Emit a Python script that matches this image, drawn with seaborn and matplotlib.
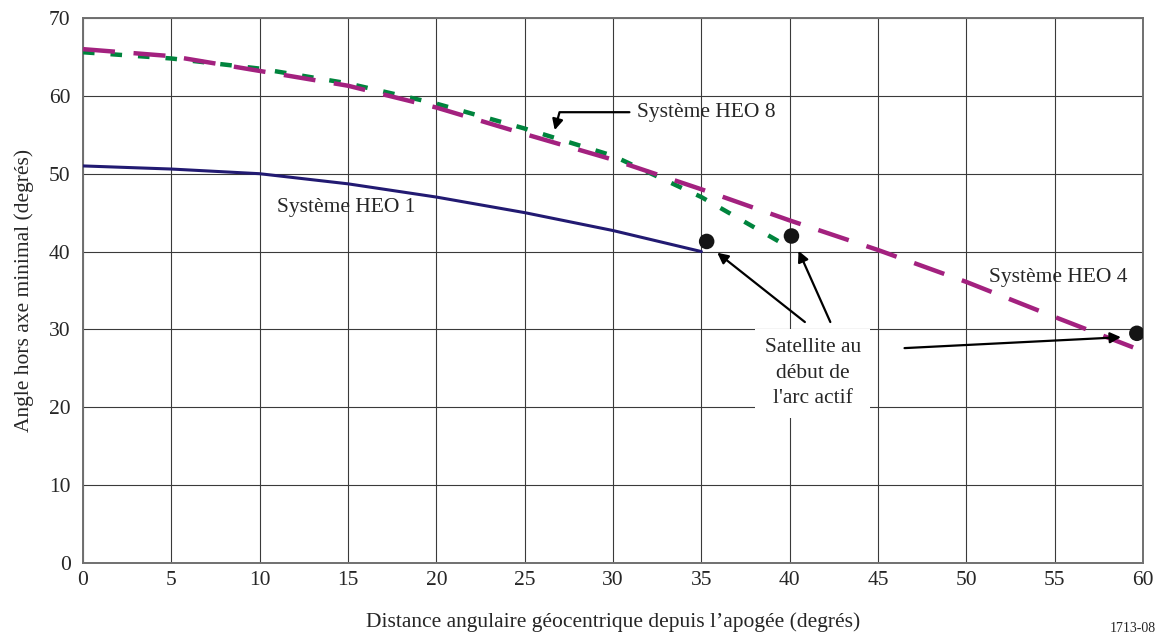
import matplotlib
matplotlib.use("Agg")
import matplotlib.pyplot as plt
import numpy as np
import pandas as pd
import seaborn as sns

# valeurs
x_heo1 = [0, 5, 10, 15, 20, 25, 30, 35]
y_heo1 = [51.0, 50.6, 50.0, 48.7, 47.0, 45.0, 42.7, 40.0]

x_heo4 = [0, 5, 10, 15, 20, 25, 30, 35, 40, 45, 50, 55, 60]
y_heo4 = [66.0, 65.1, 63.2, 61.3, 58.5, 55.1, 51.8, 48.0, 44.0, 40.2, 36.1, 31.6, 27.2]

x_heo8 = [0, 5, 10, 15, 20, 25, 30, 35, 40]
y_heo8 = [65.6, 64.8, 63.5, 61.6, 59.0, 55.8, 52.3, 47.0, 40.5]

# satellites au début de l'arc actif
x_sat = [35.3, 40.1, 59.65]
y_sat = [41.3, 42.0, 29.5]

x_ticks = list(range(0, 61, 5))
y_ticks = list(range(0, 71, 10))

sns.set_style("white")
plt.rcParams['font.family'] = ['Liberation Serif', 'DejaVu Serif']
FS = 15.5
plt.rcParams['font.size'] = FS

df1 = pd.DataFrame({"x": x_heo1, "y": y_heo1})
df4 = pd.DataFrame({"x": x_heo4, "y": y_heo4})
df8 = pd.DataFrame({"x": x_heo8, "y": y_heo8})
dsat = pd.DataFrame({"x": x_sat, "y": y_sat})

fig = plt.figure(figsize=(11.66, 6.36), dpi=100)
ax = fig.add_axes([0.0712, 0.1148, 0.9803 - 0.0712, 0.9717 - 0.1148])

sns.lineplot(data=df1, x="x", y="y", ax=ax, color="#221a72", lw=2.2, zorder=3)
l8 = sns.lineplot(data=df8, x="x", y="y", ax=ax, color="#00843d", lw=3.2, zorder=3).lines[-1]
l8.set_dashes((2.6, 3.6))
l4 = sns.lineplot(data=df4, x="x", y="y", ax=ax, color="#a3217f", lw=3.2, zorder=4).lines[-1]
l4.set_dashes((7.2, 4.2))
sns.scatterplot(data=dsat, x="x", y="y", ax=ax, color="#151515", s=125, edgecolor="none", zorder=6)

ax.set_xlim(0, 60)
ax.set_ylim(0, 70)
ax.set_xticks(x_ticks)
ax.set_yticks(y_ticks)
ax.grid(True, color="#3a3a3a", lw=0.8)
ax.set_axisbelow(True)
for s in ax.spines.values():
    s.set_color("#707070")
    s.set_linewidth(1.4)
ax.tick_params(axis="y", length=5, width=1, color="#707070", pad=4, labelsize=FS)
ax.tick_params(axis="x", length=2, width=1, color="#707070", pad=4, labelsize=FS)

ax.set_xlabel("Distance angulaire géocentrique depuis l’apogée (degrés)", fontsize=FS, labelpad=16)
ax.set_ylabel("Angle hors axe minimal (degrés)", fontsize=FS, labelpad=11)

# étiquettes des courbes
ax.text(11.0, 45.6, "Système HEO 1", fontsize=FS, va="center", ha="left")
ax.text(51.3, 36.7, "Système HEO 4", fontsize=FS, va="center", ha="left")
ax.annotate("Système HEO 8", xy=(26.7, 55.6), xytext=(31.35, 57.9),
            fontsize=FS, va="center", ha="left",
            arrowprops=dict(arrowstyle="-|>", color="black", lw=1.6, mutation_scale=16,
                            connectionstyle="angle,angleA=0,angleB=75,rad=0",
                            shrinkA=3, shrinkB=0))

ax.text(41.3, 24.4, "Satellite au\ndébut de\nl'arc actif", fontsize=FS, ha="center", va="center",
        linespacing=1.45, zorder=7,
        bbox=dict(facecolor="white", edgecolor="none", pad=7))

arrow_kw = dict(arrowstyle="-|>", color="black", lw=1.6, mutation_scale=16, shrinkA=0, shrinkB=0)
ax.annotate("", xy=(35.9, 39.85), xytext=(40.86, 30.95), arrowprops=arrow_kw, zorder=8)
ax.annotate("", xy=(40.5, 40.1), xytext=(42.3, 30.95), arrowprops=arrow_kw, zorder=8)
ax.annotate("", xy=(58.75, 29.0), xytext=(46.5, 27.6), arrowprops=arrow_kw, zorder=8)

fig.text(0.952, 0.002, "1713-08", fontsize=10, ha="left", va="bottom")

fig.savefig("out.png", dpi=100)
